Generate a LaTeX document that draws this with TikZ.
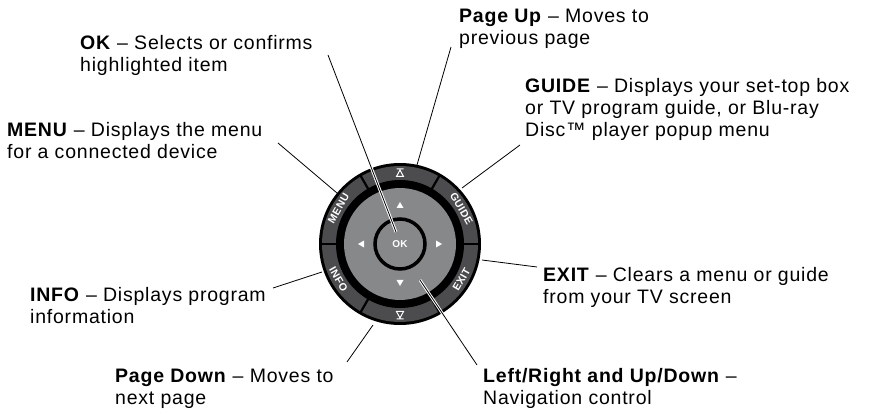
\documentclass[tikz,border=0pt]{standalone}
\usepackage{fontspec}
\setmainfont[LetterSpace=4]{Liberation Sans}
\usepackage{xcolor}
\usetikzlibrary{positioning,calc}
\definecolor{ringgray}{HTML}{4C4C4E}
\definecolor{padgray}{HTML}{87888A}

\begin{document}
\begin{tikzpicture}[x=1pt,y=-1pt,
  every node/.style={font=\fontsize{19.5}{22}\selectfont},
  lbl/.style={anchor=base west,align=left,inner sep=0pt},
  keytxt/.style={font=\fontsize{10.5}{11}\selectfont\bfseries,text=white,inner sep=0pt},
  lead/.style={line width=0.8pt},
  leadpad/.style={draw=white,line width=1pt,double=black,double distance=0.8pt}]
  \useasboundingbox (0,0) rectangle (871,414);
  \coordinate (ctr) at (400,244);
  % the round keypad
  \begin{scope}[shift={(ctr)},y=1pt]
    \fill[black] (0,0) circle (81);
    \fill[ringgray] (0,0) circle (78);
    \foreach \a in {0,60,...,300}
      \draw[line width=2.2pt] (\a:60) -- (\a:80);
    \fill[black] (0,0) circle (64);
    \fill[padgray] (0,0) circle (56);
    \draw[line width=3.5pt] (0,0) circle (25);
    \node[keytxt,font=\fontsize{10}{10}\selectfont\bfseries] (okkey) at (0,0) {OK};
    \node[keytxt,rotate=60] (menukey) at (150:71) {MENU};
    \node[keytxt,rotate=-60] (guidekey) at (30:71) {GUIDE};
    \node[keytxt,rotate=60] (exitkey) at (-30:71) {EXIT};
    \node[keytxt,rotate=-60] (infokey) at (-150:71) {INFO};
    % page up / page down marks
    \draw[white,line width=1pt] (-3.5,75) -- (3.5,75) (-3.5,67.5) -- (3.5,67.5) -- (0,74) -- cycle;
    \draw[white,line width=1pt] (-3.5,-75) -- (3.5,-75) (-3.5,-67.5) -- (3.5,-67.5) -- (0,-74) -- cycle;
    % arrow marks
    \foreach \a in {0,90,180,270}
      \fill[white,rotate=\a] (42,0) -- (36,3.5) -- (36,-3.5) -- cycle;
  \end{scope}

  % labels, placed at the baseline of their last line
  \node[lbl] (ok) at (80,72) {\textbf{OK} – Selects or confirms\\highlighted item};
  \node[lbl] (pgup) at (459,45) {\textbf{Page Up} – Moves to\\previous page};
  \node[lbl] (guide) at (525,137) {\textbf{GUIDE} – Displays your set-top box\\or TV program guide, or Blu-ray\\Disc™ player popup menu};
  \node[lbl] (menu) at (7,159) {\textbf{MENU} – Displays the menu\\for a connected device};
  \node[lbl] (info) at (30,324) {\textbf{INFO} – Displays program\\information};
  \node[lbl] (pgdn) at (115,404) {\textbf{Page Down} – Moves to\\next page};
  \node[lbl] (exit) at (543,304) {\textbf{EXIT} – Clears a menu or guide\\from your TV screen};
  \node[lbl] (nav) at (483,404) {\textbf{Left/Right and Up/Down} –\\Navigation control};

  \coordinate (okA) at (328,55);   \coordinate (okB) at (396,232);
  \coordinate (pgupA) at (451,47); \coordinate (pgupB) at (417,165);
  \coordinate (guideA) at (520,145); \coordinate (guideB) at (462,188);
  \coordinate (menuA) at (278,143); \coordinate (menuB) at (337,193);
  \coordinate (infoA) at (273,288); \coordinate (infoB) at (322,272);
  \coordinate (pgdnA) at (347,362); \coordinate (pgdnB) at (373,325);
  \coordinate (exitA) at (537,267); \coordinate (exitB) at (482,260);
  \coordinate (navA) at (477,365); \coordinate (navB) at (420,280);

  \draw[leadpad] (okA) -- (okB);
  \draw[leadpad] (navA) -- (navB);
  \draw[lead] (pgupA) -- (pgupB);
  \draw[lead] (guideA) -- (guideB);
  \draw[lead] (menuA) -- (menuB);
  \draw[lead] (infoA) -- (infoB);
  \draw[lead] (pgdnA) -- (pgdnB);
  \draw[lead] (exitA) -- (exitB);
\end{tikzpicture}
\end{document}
